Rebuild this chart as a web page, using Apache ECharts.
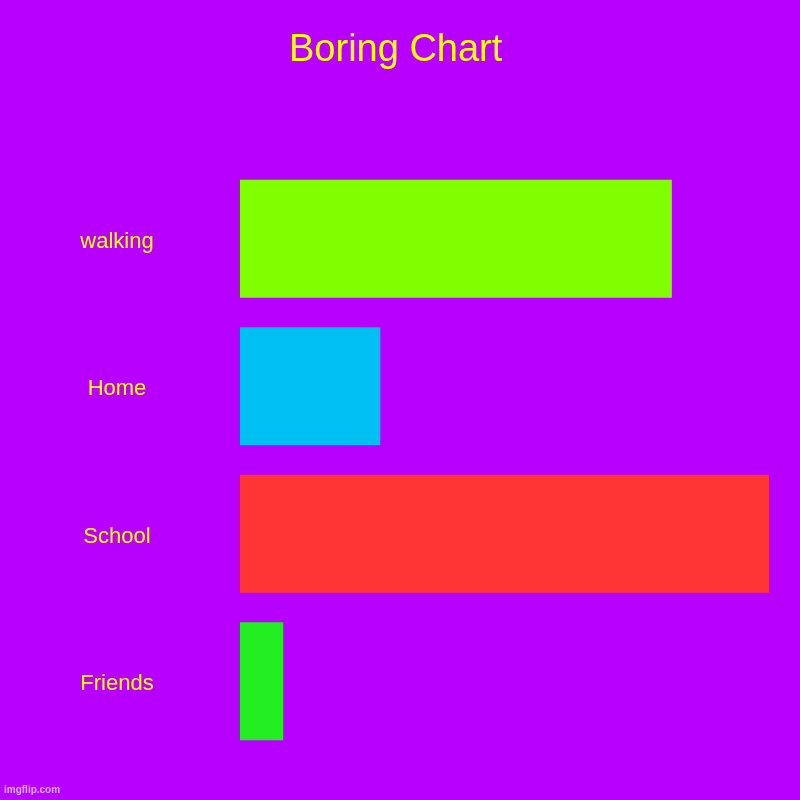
<!DOCTYPE html>
<html><head><meta charset="utf-8">
<script src="https://cdn.jsdelivr.net/npm/echarts@6/dist/echarts.min.js"></script>
<style>html,body{margin:0;padding:0;background:#b800ff}#c{width:800px;height:800px}</style>
</head><body><div id="c"></div>
<script>
const categories = ["walking", "Home", "School", "Friends"];
const values = [40, 13, 49, 4];
const barColors = ["#80ff00", "#00bff3", "#ff3535", "#22ee22"];

const chart = echarts.init(document.getElementById('c'));
chart.setOption({
  backgroundColor: '#b800ff',
  animation: false,
  title: {
    text: 'Boring Chart', left: 284, top: 27,
    textStyle: { color: '#ffff00', fontSize: 38, fontWeight: 'normal', fontFamily: 'Liberation Sans, Arial, sans-serif' }
  },
  graphic: [{
    type: 'text', left: 4, top: 785,
    style: { text: 'imgflip.com', fill: 'rgba(230,230,230,0.75)', font: 'bold 10px Liberation Sans, Arial, sans-serif' }
  }],
  grid: { left: 240, right: 31, top: 165, bottom: 45 },
  xAxis: { type: 'value', min: 0, max: 49, show: false },
  yAxis: {
    type: 'category', data: categories, inverse: true,
    axisLine: { show: false }, axisTick: { show: false }, splitLine: { show: false },
    axisLabel: {
      align: 'center', margin: 123,
      formatter: '{a|{value}}',
      rich: { a: { color: '#ffff00', fontSize: 22, padding: [6, 0, 0, 0], fontFamily: 'Liberation Sans, Arial, sans-serif' } }
    }
  },
  series: [{
    type: 'bar', barWidth: '80%',
    data: values.map((v, i) => ({ value: v, itemStyle: { color: barColors[i] } }))
  }]
});
</script></body></html>
